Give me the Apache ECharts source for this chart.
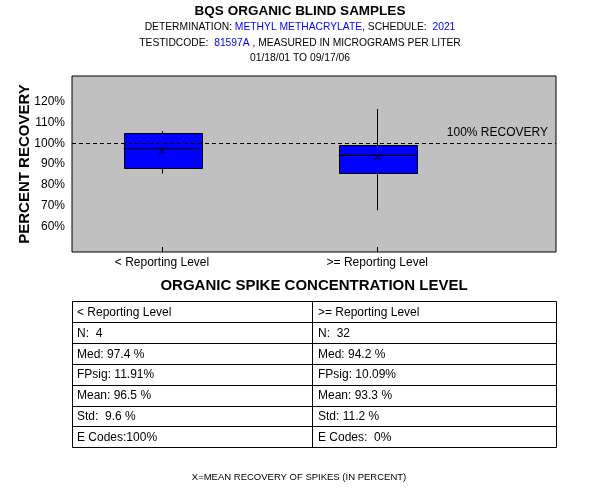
<!DOCTYPE html>
<html>
<head>
<meta charset="utf-8">
<script src="https://cdn.jsdelivr.net/npm/echarts@6/dist/echarts.min.js"></script>
<style>html,body{margin:0;padding:0;background:#fff}#c{width:600px;height:500px}</style>
</head>
<body>
<div id="c"></div>
<script>
// ---- data ----
const categories = ['< Reporting Level', '>= Reporting Level'];
const categoryPos = [1, 2];
const lowWhisker = [85.4, 67.8];
const q1 = [88.3, 85.6];
const median = [97.4, 94.2];
const q3 = [105.0, 99.0];
const highWhisker = [105.8, 116.5];
const mean = [96.5, 93.3];
const yTicks = [60, 70, 80, 90, 100, 110, 120];
const referenceLevel = 100;

const titleMain = 'BQS ORGANIC BLIND SAMPLES';
const determination = 'METHYL METHACRYLATE,';
const schedule = '2021';
const testIdCode = '81597A';
const dateRange = '01/18/01 TO 09/17/06';

const tableHeaders = ['< Reporting Level', '>= Reporting Level'];
const statN = ['N:  4', 'N:  32'];
const statMed = ['Med: 97.4 %', 'Med: 94.2 %'];
const statFPsig = ['FPsig: 11.91%', 'FPsig: 10.09%'];
const statMean = ['Mean: 96.5 %', 'Mean: 93.3 %'];
const statStd = ['Std:  9.6 %', 'Std: 11.2 %'];
const statECodes = ['E Codes:100%', 'E Codes:  0%'];

// ---- build ----
const FONT = '"Liberation Sans", Arial, sans-serif';
const boxData = categoryPos.map((x, i) => [x, lowWhisker[i], q1[i], q3[i], highWhisker[i]]);
const medData = categoryPos.map((x, i) => [x, median[i]]);
const meanData = categoryPos.map((x, i) => [x, mean[i]]);
const BOX_HALF = 0.18;

// table graphic
const tL = 72, tR = 556, tMid = 312, tTop = 301, rowH = 20.9;
const rows = [tableHeaders, statN, statMed, statFPsig, statMean, statStd, statECodes];
const graphic = [];
const tBottom = tTop + rowH * rows.length;
graphic.push({type: 'rect', shape: {x: tL + 0.5, y: tTop + 0.5, width: tR - tL, height: Math.round(tBottom - tTop)}, style: {fill: '#fff', stroke: '#000', lineWidth: 1}});
graphic.push({type: 'line', shape: {x1: tMid + 0.5, y1: tTop, x2: tMid + 0.5, y2: tBottom}, style: {stroke: '#000', lineWidth: 1}});
rows.forEach((r, i) => {
  const y0 = tTop + rowH * i;
  if (i > 0) graphic.push({type: 'line', shape: {x1: tL, y1: Math.round(y0) + 0.5, x2: tR, y2: Math.round(y0) + 0.5}, style: {stroke: '#000', lineWidth: 1}});
  graphic.push({type: 'text', x: tL + 5, y: y0 + rowH / 2 + 1, style: {text: r[0], fill: '#000', font: '12px ' + FONT, textVerticalAlign: 'middle'}});
  graphic.push({type: 'text', x: tMid + 6, y: y0 + rowH / 2 + 1, style: {text: r[1], fill: '#000', font: '12px ' + FONT, textVerticalAlign: 'middle'}});
});
graphic.push({type: 'text', x: 314, y: 286, style: {text: 'ORGANIC SPIKE CONCENTRATION LEVEL', fill: '#000', font: 'bold 15px ' + FONT, textAlign: 'center', textVerticalAlign: 'middle'}});
graphic.push({type: 'text', x: 299, y: 477, style: {text: 'X=MEAN RECOVERY OF SPIKES (IN PERCENT)', fill: '#000', font: '9.5px ' + FONT, textAlign: 'center', textVerticalAlign: 'middle'}});

const SUB = 10.3;
const richStyle = {
  k: {fontSize: SUB, fontWeight: 'normal', color: '#000', fontFamily: FONT},
  v: {fontSize: SUB, fontWeight: 'normal', color: '#0000ff', fontFamily: FONT}
};

const chart = echarts.init(document.getElementById('c'), null, {renderer: 'canvas'});
chart.setOption({
  animation: false,
  backgroundColor: '#fff',
  textStyle: {fontFamily: FONT},
  title: [
    {text: titleMain, left: 'center', top: 4, padding: 0, textStyle: {fontSize: 13.5, fontWeight: 'bold', color: '#000', fontFamily: FONT}},
    {text: '{k|DETERMINATION: }{v|' + determination + '}{k| SCHEDULE:  }{v|' + schedule + '}', left: 'center', top: 22, padding: 0,
      textStyle: {fontWeight: 'normal', fontSize: SUB, rich: richStyle}},
    {text: '{k|TESTIDCODE:  }{v|' + testIdCode + '}{k| , MEASURED IN MICROGRAMS PER LITER}', left: 'center', top: 38, padding: 0,
      textStyle: {fontWeight: 'normal', fontSize: SUB, rich: richStyle}},
    {text: dateRange, left: 'center', top: 53, padding: 0, textStyle: {fontSize: SUB, fontWeight: 'normal', color: '#000', fontFamily: FONT}}
  ],
  grid: {left: 72, right: 44, top: 76, bottom: 248, show: true, backgroundColor: '#c0c0c0', borderColor: '#000', borderWidth: 1},
  xAxis: {
    type: 'value', min: 0.582, max: 2.83,
    axisLine: {show: false}, splitLine: {show: false},
    axisTick: {show: true, inside: true, length: 5, customValues: categoryPos, lineStyle: {color: '#000'}},
    axisLabel: {customValues: categoryPos, formatter: v => categories[categoryPos.indexOf(v)] || '', color: '#000', fontSize: 12, margin: 5, fontFamily: FONT}
  },
  yAxis: {
    type: 'value', min: 47.7, max: 132.4,
    name: 'PERCENT RECOVERY', nameLocation: 'middle', nameGap: 40, nameRotate: 90, nameMoveOverlap: false,
    nameTextStyle: {fontSize: 15, fontWeight: 'bold', color: '#000', fontFamily: FONT},
    axisLine: {show: false}, splitLine: {show: false}, axisTick: {show: false},
    axisLabel: {customValues: yTicks, formatter: v => v + '%', color: '#000', fontSize: 12, margin: 7, fontFamily: FONT}
  },
  graphic: graphic,
  series: [
    {
      type: 'custom', z: 2,
      data: boxData,
      encode: {x: 0, y: [1, 2, 3, 4]},
      renderItem: function (params, api) {
        const x = api.value(0);
        const lo = api.coord([x, api.value(1)]);
        const b1 = api.coord([x, api.value(2)]);
        const b3 = api.coord([x, api.value(3)]);
        const hi = api.coord([x, api.value(4)]);
        const hw = api.size([BOX_HALF, 0])[0];
        const cx = Math.round(lo[0]) + 0.5;
        const left = Math.round(cx - hw) + 0.5;
        const w = Math.round(hw * 2);
        return {
          type: 'group',
          children: [
            {type: 'line', shape: {x1: cx, y1: lo[1], x2: cx, y2: hi[1]}, style: {stroke: '#000', lineWidth: 1}},
            {type: 'rect', shape: {x: left, y: Math.round(b3[1]) + 0.5, width: w, height: Math.round(b1[1] - b3[1])}, style: {fill: '#0000ff', stroke: '#000', lineWidth: 1}}
          ]
        };
      }
    },
    {
      type: 'scatter', z: 5, silent: true,
      data: medData,
      symbol: 'rect', symbolSize: [77, 1.2],
      itemStyle: {color: '#000', opacity: 1}
    },
    {
      type: 'scatter', z: 6, silent: true,
      data: meanData,
      symbol: 'path://M0 0L10 10M0 10L10 0', symbolSize: 6,
      itemStyle: {color: 'rgba(0,0,0,0)', borderColor: '#000', borderWidth: 1, opacity: 1}
    },
    {
      type: 'line', data: [], silent: true,
      markLine: {
        silent: true, symbol: 'none', animation: false,
        data: [{yAxis: referenceLevel}],
        lineStyle: {color: '#000', type: [4, 3], width: 1},
        label: {show: true, position: 'insideEndTop', formatter: '100% RECOVERY', color: '#000', fontSize: 12, fontFamily: FONT, distance: [8, 5]}
      }
    }
  ]
});
</script>
</body>
</html>
